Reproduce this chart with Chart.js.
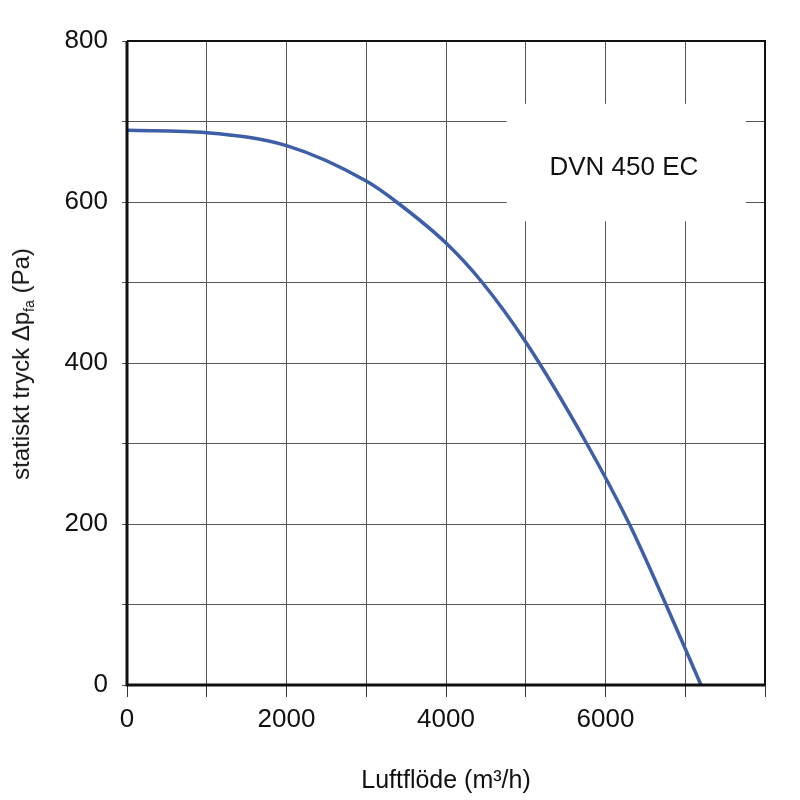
<!DOCTYPE html>
<html>
<head>
<meta charset="utf-8">
<script src="https://cdn.jsdelivr.net/npm/chart.js@4"></script>
<style>
  html, body { margin: 0; padding: 0; background: #fff; }
  #wrap { position: relative; width: 800px; height: 800px; }
  #yTitle {
    position: absolute; left: 22px; top: 364px;
    transform: translate(-50%, -50%) rotate(-90deg);
    white-space: nowrap;
    font-family: "Liberation Sans", Arial, sans-serif;
    font-size: 24px; color: #111;
  }
  #yTitle sub { font-size: 14px; vertical-align: -5px; }
</style>
</head>
<body>
<div id="wrap">
  <canvas id="fanChart" width="800" height="800"></canvas>
  <div id="yTitle">statiskt tryck &Delta;p<sub>fa</sub> (Pa)</div>
</div>
<script>
// fan curve (mostly where it crosses grid lines)
const FLOW = [0, 1000, 2000, 3000, 3380, 4000, 4455, 5000, 5764, 6299, 6758, 7197];
const PRESSURE = [689, 686, 670, 626, 600, 549, 500, 426, 300, 200, 100, 0];

const X_LABELS = ["0", "2000", "4000", "6000"];
const Y_LABELS = ["0", "200", "400", "600", "800"];
const MODEL_NAME = "DVN 450 EC";
const X_TITLE = "Luftflöde (m³/h)";

const FONT = "'Liberation Sans', Arial, sans-serif";
const LINE_BLUE = "#3e5ea8";

// white label box drawn over the grid
const labelBox = {
  id: "labelBox",
  beforeDatasetsDraw(chart) {
    const ctx = chart.ctx;
    const x = chart.scales.x, y = chart.scales.y;
    const x0 = x.getPixelForValue(4760), x1 = x.getPixelForValue(7760);
    const y0 = y.getPixelForValue(722), y1 = y.getPixelForValue(576);
    ctx.save();
    ctx.fillStyle = "#fff";
    ctx.fillRect(x0, y0, x1 - x0, y1 - y0);
    ctx.fillStyle = "#111";
    ctx.font = "26px " + FONT;
    ctx.textAlign = "center";
    ctx.textBaseline = "middle";
    ctx.fillText(MODEL_NAME, x.getPixelForValue(6230), y.getPixelForValue(643));
    ctx.restore();
  },
  afterDraw(chart) {
    // frame: heavy left/bottom, lighter top/right
    const ctx = chart.ctx, a = chart.chartArea;
    ctx.save();
    ctx.strokeStyle = "#111";
    ctx.lineWidth = 2;
    ctx.beginPath();
    ctx.moveTo(a.left, a.top);
    ctx.lineTo(a.right, a.top);
    ctx.lineTo(a.right, a.bottom);
    ctx.stroke();
    ctx.lineWidth = 3;
    ctx.beginPath();
    ctx.moveTo(a.left, a.top);
    ctx.lineTo(a.left, a.bottom);
    ctx.lineTo(a.right, a.bottom);
    ctx.stroke();
    ctx.restore();
  },
};

const data = {
  datasets: [
    {
      data: FLOW.map((f, i) => ({ x: f, y: PRESSURE[i] })),
      borderColor: LINE_BLUE,
      borderWidth: 3.5,
      pointRadius: 0,
      cubicInterpolationMode: "monotone",
      fill: false,
    },
  ],
};

const config = {
  type: "line",
  data: data,
  options: {
    responsive: false,
    animation: false,
    layout: { padding: { top: 41, right: 35, left: 0, bottom: 0 } },
    plugins: { legend: { display: false }, tooltip: { enabled: false } },
    scales: {
      x: {
        type: "linear",
        min: 0,
        max: 8000,
        afterFit(scale) { scale.height = 115; },
        border: { display: false },
        grid: {
          color: "#555",
          lineWidth: 1,
          tickLength: 12,
          tickColor: "#333",
        },
        ticks: {
          stepSize: 1000,
          autoSkip: false,
          maxRotation: 0,
          padding: 7,
          color: "#111",
          font: { family: FONT, size: 26 },
          callback: (v) => (X_LABELS.includes(String(v)) ? String(v) : ""),
        },
        title: {
          display: true,
          text: X_TITLE,
          color: "#111",
          font: { family: FONT, size: 25 },
          padding: { top: 14 },
        },
      },
      y: {
        type: "linear",
        min: 0,
        max: 800,
        afterFit(scale) { scale.width = 127; },
        border: { display: false },
        grid: {
          color: "#555",
          lineWidth: 1,
          tickLength: 5,
          tickColor: "#555",
        },
        ticks: {
          stepSize: 100,
          autoSkip: false,
          padding: 14,
          color: "#111",
          font: { family: FONT, size: 26 },
          callback: (v) => (Y_LABELS.includes(String(v)) ? String(v) : ""),
        },
      },
    },
  },
  plugins: [labelBox],
};

new Chart(document.getElementById("fanChart"), config);
</script>
</body>
</html>
